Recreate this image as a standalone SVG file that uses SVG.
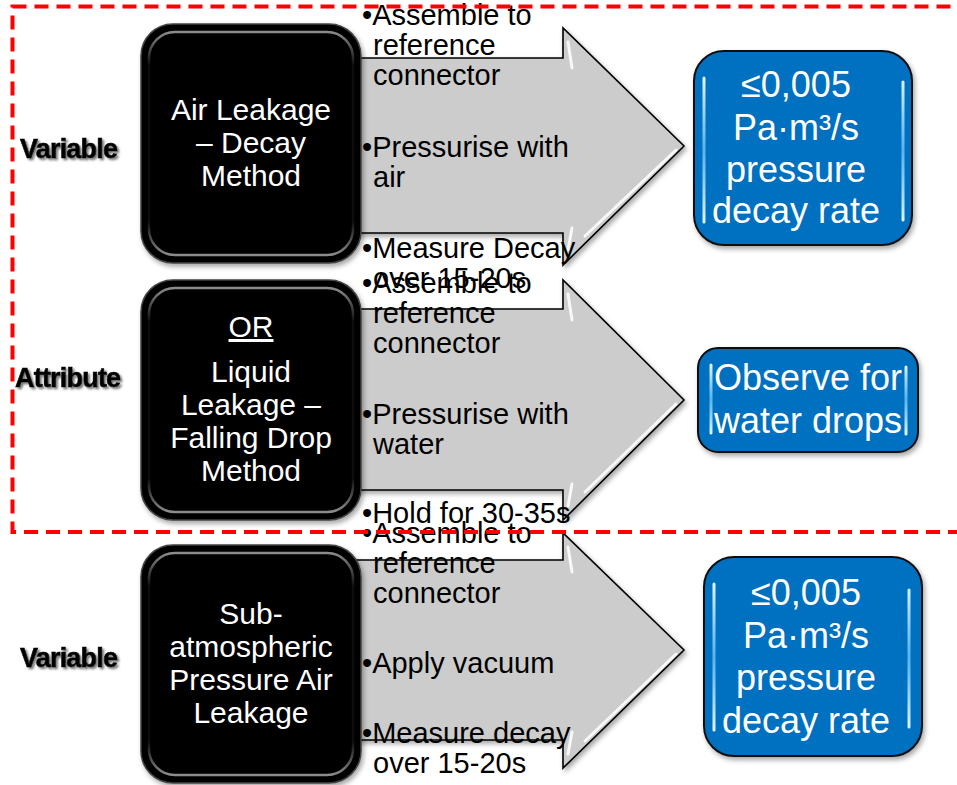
<svg xmlns="http://www.w3.org/2000/svg" width="957" height="785" viewBox="0 0 957 785">
<style>
.arrow{fill:#cccccc;stroke:#000;stroke-width:1.6;stroke-linejoin:miter}
.bevel{fill:none;stroke:#fff;stroke-width:3;stroke-linecap:round;opacity:0.85}
.bbox{fill:#000;stroke:#444;stroke-width:1.5}
.bhl{fill:none;stroke:url(#bgl);stroke-width:2.5}
.blue{fill:#0070c0;stroke:#111;stroke-width:2}
.uhl{fill:none;stroke:url(#ugl);stroke-width:3;stroke-linecap:round}
.wt{font-family:"Liberation Sans",Arial,sans-serif;font-size:30px;fill:#fff;text-anchor:middle}
.ut{font-family:"Liberation Sans",Arial,sans-serif;font-size:36px;fill:#fff;text-anchor:middle}
.at{font-family:"Liberation Sans",Arial,sans-serif;font-size:29px;fill:#000}
.lab{font-family:"Liberation Sans",Arial,sans-serif;font-size:27px;font-weight:bold;fill:#000;stroke:#000;stroke-width:0.6;letter-spacing:-0.8px}
</style>
<defs>
<filter id="sh" x="-10%" y="-10%" width="130%" height="130%">
<feDropShadow dx="2" dy="3" stdDeviation="2.5" flood-color="#000" flood-opacity="0.35"/>
</filter>
<filter id="tsh" x="-10%" y="-20%" width="130%" height="150%">
<feDropShadow dx="2" dy="2" stdDeviation="1" flood-color="#555" flood-opacity="0.8"/>
</filter>
<linearGradient id="bgl" x1="0" y1="0" x2="0" y2="1">
<stop offset="0" stop-color="#fff" stop-opacity="0.55"/>
<stop offset="0.15" stop-color="#fff" stop-opacity="0.05"/>
<stop offset="0.85" stop-color="#fff" stop-opacity="0.05"/>
<stop offset="1" stop-color="#fff" stop-opacity="0.55"/>
</linearGradient>
<linearGradient id="ugl" x1="0" y1="0" x2="0" y2="1">
<stop offset="0" stop-color="#e0f6ff" stop-opacity="1"/>
<stop offset="0.5" stop-color="#7fd0ff" stop-opacity="0.7"/>
<stop offset="1" stop-color="#e0f6ff" stop-opacity="1"/>
</linearGradient>
</defs>
<rect width="957" height="785" fill="#fff"/>

<g id="connectors">
<g id="arrow1">
<polygon class="arrow" points="340,58 563,58 563,28 684,146 563,265 563,233 340,233" filter="url(#sh)"/>
<polyline class="bevel" points="568,42 572,68"/>
<polyline class="bevel" points="585,236 676,150"/>
<polyline class="bevel" points="568,250 572,228" opacity="0.6"/>
</g>
<g id="arrow2">
<polygon class="arrow" points="340,309 563,309 563,280 684,400 563,520 563,490 340,490" filter="url(#sh)"/>
<polyline class="bevel" points="568,294 572,320"/>
<polyline class="bevel" points="585,492 676,404"/>
<polyline class="bevel" points="568,506 572,484" opacity="0.6"/>
</g>
<g id="arrow3">
<polygon class="arrow" points="340,560 563,560 563,533 684,650 563,768 563,740 340,740" filter="url(#sh)"/>
<polyline class="bevel" points="568,547 572,572"/>
<polyline class="bevel" points="585,741 676,654"/>
<polyline class="bevel" points="568,754 572,732" opacity="0.6"/>
</g>
</g>

<g id="node-air-leakage">
<rect class="bbox" x="141" y="24" width="220" height="239" rx="32" filter="url(#sh)"/>
<rect class="bhl" x="149" y="32" width="204" height="223" rx="26"/>
<text class="wt" x="251" y="120">Air Leakage</text>
<text class="wt" x="251" y="153">– Decay</text>
<text class="wt" x="251" y="186">Method</text>
</g>
<g id="node-liquid-leakage">
<rect class="bbox" x="141" y="280" width="220" height="240" rx="32" filter="url(#sh)"/>
<rect class="bhl" x="149" y="288" width="204" height="224" rx="26"/>
<text class="wt" x="251" y="337" text-decoration="underline">OR</text>
<text class="wt" x="251" y="382">Liquid</text>
<text class="wt" x="251" y="415">Leakage –</text>
<text class="wt" x="251" y="448">Falling Drop</text>
<text class="wt" x="251" y="481">Method</text>
</g>
<g id="node-sub-atmospheric">
<rect class="bbox" x="141" y="545" width="220" height="238" rx="32" filter="url(#sh)"/>
<rect class="bhl" x="149" y="553" width="204" height="222" rx="26"/>
<text class="wt" x="251" y="624">Sub-</text>
<text class="wt" x="251" y="657">atmospheric</text>
<text class="wt" x="251" y="690">Pressure Air</text>
<text class="wt" x="251" y="723">Leakage</text>
</g>

<g id="node-result1">
<rect class="blue" x="694" y="51" width="218" height="194" rx="30" filter="url(#sh)"/>
<path class="uhl" d="M704,78 L704,222 M903,82 L903,220"/>
<text class="ut" x="796" y="97">≤0,005</text>
<text class="ut" x="796" y="140">Pa·m³/s</text>
<text class="ut" x="796" y="182">pressure</text>
<text class="ut" x="796" y="223">decay rate</text>
</g>
<g id="node-result2">
<rect class="blue" x="698" y="348" width="220" height="104" rx="20" filter="url(#sh)"/>
<path class="uhl" d="M711,365 L711,433 M906,367 L906,434"/>
<text class="ut" x="808" y="390">Observe for</text>
<text class="ut" x="808" y="433">water drops</text>
</g>
<g id="node-result3">
<rect class="blue" x="704" y="557" width="218" height="199" rx="30" filter="url(#sh)"/>
<path class="uhl" d="M714,584 L714,730 M909,590 L909,727"/>
<text class="ut" x="806" y="605">≤0,005</text>
<text class="ut" x="806" y="648">Pa·m³/s</text>
<text class="ut" x="806" y="690">pressure</text>
<text class="ut" x="806" y="733">decay rate</text>
</g>

<g id="steps1">
<text class="at" x="362" y="25">•Assemble to</text>
<text class="at" x="373" y="55">reference</text>
<text class="at" x="373" y="85">connector</text>
<text class="at" x="362" y="157">•Pressurise with</text>
<text class="at" x="373" y="187">air</text>
<text class="at" x="362" y="258">•Measure Decay</text>
<text class="at" x="373" y="288">over 15-20s</text>
</g>
<g id="steps2">
<text class="at" x="362" y="293">•Assemble to</text>
<text class="at" x="373" y="323">reference</text>
<text class="at" x="373" y="353">connector</text>
<text class="at" x="362" y="424">•Pressurise with</text>
<text class="at" x="373" y="454">water</text>
<text class="at" x="362" y="523">•Hold for 30-35s</text>
</g>
<g id="steps3">
<text class="at" x="362" y="543">•Assemble to</text>
<text class="at" x="373" y="573">reference</text>
<text class="at" x="373" y="603">connector</text>
<text class="at" x="362" y="673">•Apply vacuum</text>
<text class="at" x="362" y="743">•Measure decay</text>
<text class="at" x="373" y="773">over 15-20s</text>
</g>

<rect id="group-box" x="12.5" y="6.5" width="960" height="525.5" fill="none" stroke="#ff0000" stroke-width="4" stroke-dasharray="14 8"/>

<g id="labels" filter="url(#tsh)">
<text class="lab" x="20" y="158">Variable</text>
<text class="lab" x="15" y="387">Attribute</text>
<text class="lab" x="20" y="667">Variable</text>
</g>
</svg>
